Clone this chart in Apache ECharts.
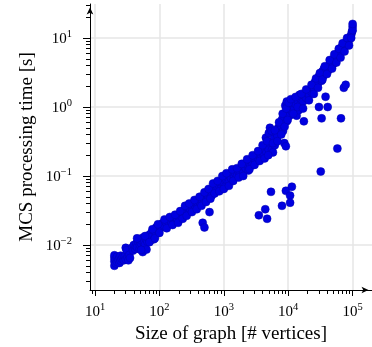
<!DOCTYPE html>
<html><head><meta charset="utf-8">
<script src="https://cdn.jsdelivr.net/npm/echarts@6/dist/echarts.min.js"></script>
<style>html,body{margin:0;padding:0;background:#fff}#c{width:372px;height:347px}</style>
</head><body><div id="c"></div>
<script>
// Graph sizes (# vertices) and MCS processing times (s)
const bandVertices = [
  20,20,20,20,21,21,22,22,23,24,24,25,25,26,27,28,29,30,30,31,32,33,34,35,
  38,39,40,42,43,44,45,47,48,49,50,52,53,55,55,57,58,60,62,63,65,66,
  68,70,72,75,77,80,82,85,88,90,92,95,98,100,103,105,108,
  112,118,125,130,135,140,150,155,160,170,180,185,190,200,210,215,225,235,245,250,260,
  270,280,290,300,310,330,350,360,380,400,420,440,460,480,500,520,540,560,580,600,
  620,650,680,700,720,750,780,800,850,880,900,950,1000,1000,1050,1100,1150,1200,1250,1300,1400,1450,1500,1600,1700,1800,
  1900,2000,2100,2200,2300,2400,2500,2600,2700,2800,3000,3100,3300,3400,3600,3800,4000,4200,4400,4500,4600,4800,5000,5000,5200,5500,
  5600,5800,6000,6200,6500,6800,7000,7200,7500,7800,8000,8300,8500,8700,9000,9000,9200,9500,9500,9700,10000,10000,10500,10500,
  11000,11500,12000,12500,13000,13500,14000,14500,15000,15500,16000,17000,17500,18000,19000,20000,21000,22000,23000,24000,25000,26000,27000,28000,29000,30000,31000,
  32000,33000,34000,35000,36000,38000,40000,42000,44000,46000,48000,50000,52000,54000,56000,58000,60000,62000,64000,66000,68000,70000,72000,75000,78000,80000,83000,86000,90000,93000,96000,98000,100000,100000,100000
];
const bandSeconds = [
  0.0050,0.0058,0.0065,0.0071,0.0054,0.0062,0.0068,0.0057,0.0061,0.0066,0.0055,0.0070,0.0059,0.0063,0.0067,0.0060,0.0069,0.0062,0.0091,0.0084,0.0066,0.0060,0.0072,0.0065,
  0.0092,0.0083,0.0100,0.0088,0.0096,0.0106,0.0093,0.0112,0.0121,0.0087,0.0099,0.0105,0.0116,0.0079,0.0128,0.0091,0.0110,0.0101,0.0122,0.0086,0.0112,0.0133,
  0.0125,0.0141,0.0116,0.0150,0.0133,0.0165,0.0121,0.0156,0.0176,0.0146,0.0186,0.0161,0.0191,0.0171,0.0182,0.0196,0.0180,
  0.0206,0.0191,0.0216,0.0201,0.0228,0.0213,0.0224,0.0210,0.0236,0.0221,0.0246,0.0232,0.0230,0.0256,0.0271,0.0242,0.0286,0.0262,0.0301,0.0332,0.0287,
  0.0312,0.0346,0.0300,0.0331,0.0366,0.0351,0.0386,0.0341,0.0401,0.0371,0.0421,0.0396,0.0441,0.0471,0.0431,0.0491,0.0461,0.0521,0.0501,0.0552,
  0.0601,0.0522,0.0652,0.0582,0.0702,0.0622,0.0752,0.0682,0.0722,0.0802,0.0652,0.0852,0.0782,0.0922,0.0702,0.0882,0.0952,0.0822,0.1000,0.0922,0.1052,0.0982,0.1102,0.1002,0.1152,0.1082,
  0.125,0.115,0.135,0.128,0.145,0.120,0.155,0.140,0.165,0.150,0.175,0.160,0.190,0.170,0.200,0.185,0.220,0.205,0.240,0.360,0.220,0.260,0.240,0.420,0.500,0.450,
  0.240,0.220,0.350,0.280,0.420,0.380,0.500,0.460,0.580,0.520,0.660,0.450,0.720,0.300,0.800,1.050,0.270,0.620,1.200,0.900,0.850,1.000,0.750,0.950,
  1.05,0.85,1.15,0.95,1.10,0.75,1.25,0.90,1.50,1.10,1.30,1.20,0.62,1.45,1.35,1.60,1.50,1.80,1.65,2.00,1.85,2.30,2.10,2.50,2.20,2.80,2.60,
  3.00,2.40,3.30,2.80,3.60,3.20,3.80,3.40,4.20,3.90,4.60,4.20,5.20,4.80,5.60,5.20,6.20,5.60,6.80,6.20,7.40,6.80,8.00,7.40,8.60,8.00,9.20,8.60,9.80,10.5,11.5,12.5,14.5,13.0,16.0
];
// extra points at the upper / lower edge of the band
const edgeVertices = [
  45,52,60,70,78,85,95,100,
  120,130,145,160,175,195,210,230,250,265,
  290,320,350,380,420,450,500,530,580,620,
  680,720,800,850,950,1000,1100,1200,1350,1400,1600,1700,
  1900,2000,2300,2500,2800,3000,3400,3600,4000,4300,4700,4900,
  5800,6200,6800,7200,7800,8200,8800,9300,9800,10200,
  11000,12000,13000,14000,16000,17000,19000,21000,23000,25000,27000,29000,31000,
  34000,37000,40000,44000,48000,52000,56000,61000,65000,70000,75000,82000,88000,95000
];
const edgeSeconds = [
  0.0125,0.0085,0.0135,0.0110,0.0170,0.0125,0.0200,0.0150,
  0.0235,0.0175,0.0255,0.0195,0.0275,0.0210,0.0310,0.0240,0.0370,0.0265,
  0.0400,0.0300,0.0450,0.0330,0.0500,0.0370,0.0580,0.0420,0.0650,0.0470,
  0.0780,0.0560,0.0850,0.0600,0.1000,0.0650,0.1100,0.0720,0.1250,0.0850,0.1300,0.0950,
  0.150,0.100,0.175,0.125,0.200,0.145,0.230,0.165,0.280,0.180,0.320,0.200,
  0.300,0.460,0.320,0.600,0.400,0.800,0.520,0.950,0.650,1.15,
  1.30,0.80,1.40,1.00,1.55,0.95,1.80,1.25,2.10,1.55,2.60,1.90,3.10,
  2.50,3.90,3.00,4.80,3.60,5.80,4.40,7.00,5.20,8.40,6.40,10.0,7.80,10.0
];
const outlierVertices = [470,500,600,3500,4400,4700,5400,8000,9200,10700,11400,10700,32000,58000,33000,66000,30000,41000,38000,73000,78000];
const outlierSeconds  = [0.021,0.018,0.030,0.027,0.033,0.024,0.059,0.037,0.061,0.052,0.070,0.041,0.116,0.25,0.685,0.685,1.0,1.0,1.41,1.9,2.1];

const xDecades = [1, 2, 3, 4, 5];      // tick labels 10^1 ... 10^5
const yDecades = [-2, -1, 0, 1];       // tick labels 10^-2 ... 10^1
const xRange = [8.36, 200000];
const yRange = [0.00223, 31.1];

const lg = Math.log10;
const FONT = 'Liberation Serif';
const toPts = (xs, ys) => xs.map((v, i) => [lg(v), lg(ys[i])]);
const points = toPts(bandVertices, bandSeconds)
  .concat(toPts(edgeVertices, edgeSeconds))
  .concat(toPts(outlierVertices, outlierSeconds));

function minorTicks(lo, hi) {
  const out = [];
  for (let e = Math.floor(lo) - 1; e <= Math.ceil(hi); e++) {
    for (let k = 2; k <= 9; k++) { const v = e + lg(k); if (v > lo && v < hi) out.push(v); }
  }
  return out;
}
const rich = {
  b: { fontFamily: FONT, fontSize: 15, lineHeight: 18, verticalAlign: 'bottom', color: '#000' },
  s: { fontFamily: FONT, fontSize: 10.5, lineHeight: 10, verticalAlign: 'top', color: '#000' }
};
function fmt(v) { const e = Math.round(v); return '{b|10}{s|' + (e < 0 ? '\u2212' + (-e) : e) + '}'; }

const xMin = lg(xRange[0]), xMax = lg(xRange[1]);
const yMin = lg(yRange[0]), yMax = lg(yRange[1]);
const axisCol = '#000';

const chart = echarts.init(document.getElementById('c'), null, { renderer: 'canvas' });
chart.setOption({
  animation: false,
  grid: { left: 90, right: 0, top: 4, bottom: 57, containLabel: false, outerBoundsMode: 'none' },
  xAxis: [{
    type: 'value', min: xMin, max: xMax, position: 'bottom',
    axisLine: { show: true, onZero: false, symbol: ['none', 'arrow'], symbolSize: [5, 7], symbolOffset: [0, -3.5], lineStyle: { color: axisCol, width: 1 } },
    axisTick: { show: true, inside: false, length: 6, customValues: xDecades, lineStyle: { color: axisCol, width: 1 } },
    axisLabel: { show: true, customValues: xDecades, formatter: fmt, rich: rich, margin: 12 },
    splitLine: { show: true, lineStyle: { color: '#e6e6e6', width: 1.5 } },
    name: 'Size of graph [# vertices]', nameLocation: 'middle', nameGap: 35, nameMoveOverlap: false,
    nameTextStyle: { fontFamily: FONT, fontSize: 19, color: '#000' }
  }, {
    type: 'value', min: xMin, max: xMax, position: 'bottom',
    axisLine: { show: false, onZero: false },
    axisTick: { show: true, inside: false, length: 4, customValues: minorTicks(xMin, xMax), lineStyle: { color: axisCol, width: 1 } },
    axisLabel: { show: false }, splitLine: { show: false }
  }],
  yAxis: [{
    type: 'value', min: yMin, max: yMax, position: 'left',
    axisLine: { show: true, onZero: false, symbol: ['none', 'arrow'], symbolSize: [5, 7], symbolOffset: [0, -3.5], lineStyle: { color: axisCol, width: 1 } },
    axisTick: { show: true, inside: false, length: 7, customValues: yDecades, lineStyle: { color: axisCol, width: 1 } },
    axisLabel: { show: true, customValues: yDecades, formatter: fmt, rich: rich, margin: 18 },
    splitLine: { show: true, lineStyle: { color: '#e6e6e6', width: 1.5 } },
    name: 'MCS processing time [s]', nameLocation: 'middle', nameGap: 53, nameMoveOverlap: false,
    nameTextStyle: { fontFamily: FONT, fontSize: 19, color: '#000' }
  }, {
    type: 'value', min: yMin, max: yMax, position: 'left',
    axisLine: { show: false, onZero: false },
    axisTick: { show: true, inside: false, length: 4, customValues: minorTicks(yMin, yMax), lineStyle: { color: axisCol, width: 1 } },
    axisLabel: { show: false }, splitLine: { show: false }
  }],
  series: [{
    type: 'scatter', xAxisIndex: 0, yAxisIndex: 0, data: points,
    symbol: 'circle', symbolSize: 8,
    itemStyle: { color: '#0000e0', borderColor: '#0000b0', borderWidth: 0.5, opacity: 1 }
  }]
});
</script>
</body></html>
